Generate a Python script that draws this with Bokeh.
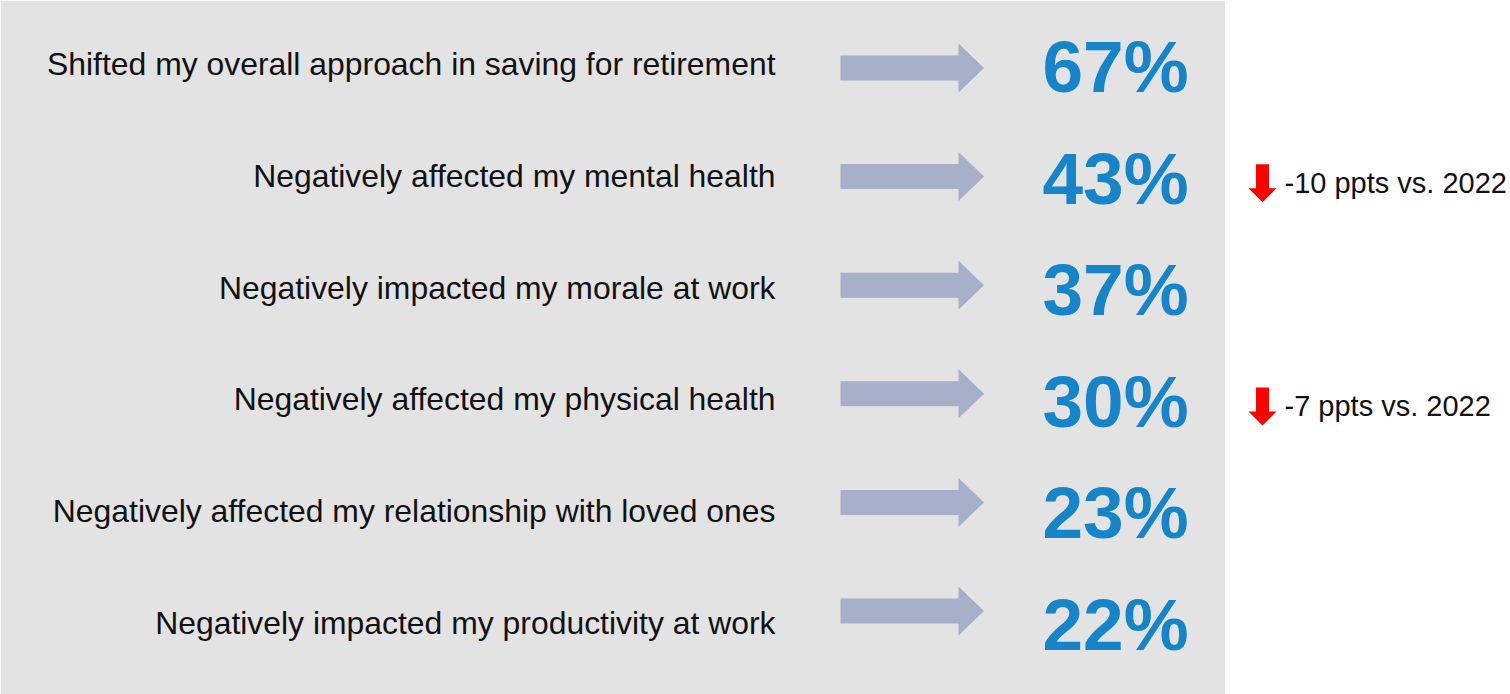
from bokeh.plotting import figure
from bokeh.models import Range1d
from bokeh.core.properties import value
from bokeh.embed import file_html
from bokeh.resources import INLINE

# ---- data ----
labels = [
    "Shifted my overall approach in saving for retirement",
    "Negatively affected my mental health",
    "Negatively impacted my morale at work",
    "Negatively affected my physical health",
    "Negatively affected my relationship with loved ones",
    "Negatively impacted my productivity at work",
]
percents = [67, 43, 37, 30, 23, 22]
changes = [None, -10, None, -7, None, None]
compare_year = "2022"

# ---- layout (pixel-like data space, y downward) ----
W, H = 1510, 694
FONT = "Liberation Sans"
BASE_FIX = 0.38  # renderer baseline correction (fraction of font size)

label_fs, pct_fs, note_fs = 31.9, 73, 29
label_base0, label_step = 76.0, 111.65
arrow_c0, arrow_step = 67.5, 108.6
pct_base0, pct_step = 94.0, 111.5

p = figure(width=W, height=H, output_backend="svg", toolbar_location=None,
           x_range=Range1d(0, W), y_range=Range1d(H, 0),
           min_border=0, outline_line_color=None,
           background_fill_color="white", border_fill_color="white")
p.axis.visible = False
p.grid.visible = False

# gray panel
p.quad(left=[0], right=[1224.5], top=[0], bottom=[693.5],
       fill_color="#e3e3e3", line_color=None)

n = len(labels)
label_y = [label_base0 + i * label_step for i in range(n)]
arrow_y = [arrow_c0 + i * arrow_step for i in range(n)]
pct_y = [pct_base0 + i * pct_step for i in range(n)]

# labels
p.text(x=[775] * n, y=[v - BASE_FIX * label_fs for v in label_y], text=labels,
       text_font=value(FONT), text_font_size=value(f"{label_fs}px"),
       text_color="#111111", text_align="right", text_baseline="alphabetic")

# gray-blue arrows
sx0, hx0, tip = 840.0, 958.0, 983.5
sh, hh = 12.5, 24.5
xs, ys = [], []
for c in arrow_y:
    xs.append([sx0, hx0, hx0, tip, hx0, hx0, sx0])
    ys.append([c - sh, c - sh, c - hh, c, c + hh, c + sh, c + sh])
p.patches(xs=xs, ys=ys, fill_color="#a6b0c8", line_color=None)

# big percentages
p.text(x=[1042] * n, y=[v - BASE_FIX * pct_fs for v in pct_y],
       text=[f"{v}%" for v in percents],
       text_font=value(FONT), text_font_size=value(f"{pct_fs}px"), text_font_style="bold",
       text_color="#1584c8", text_align="left", text_baseline="alphabetic")

# change annotations with red down arrows
rxs, rys, rtx, rty, rtt = [], [], [], [], []
for i, ch in enumerate(changes):
    if ch is None:
        continue
    base = label_y[i] + 6
    top = base - 30
    cx = 1262.0
    rxs.append([cx - 6.5, cx + 6.5, cx + 6.5, cx + 14, cx, cx - 14, cx - 6.5])
    rys.append([top, top, top + 24, top + 24, top + 38, top + 24, top + 24])
    rtx.append(1284)
    rty.append(base - BASE_FIX * note_fs)
    rtt.append(f"{ch} ppts vs. {compare_year}")
p.patches(xs=rxs, ys=rys, fill_color="#ff0000", line_color=None)
p.text(x=rtx, y=rty, text=rtt, text_font=value(FONT), text_font_size=value(f"{note_fs}px"),
       text_color="#111111", text_align="left", text_baseline="alphabetic")

open("out.html", "w").write(file_html(p, INLINE))
